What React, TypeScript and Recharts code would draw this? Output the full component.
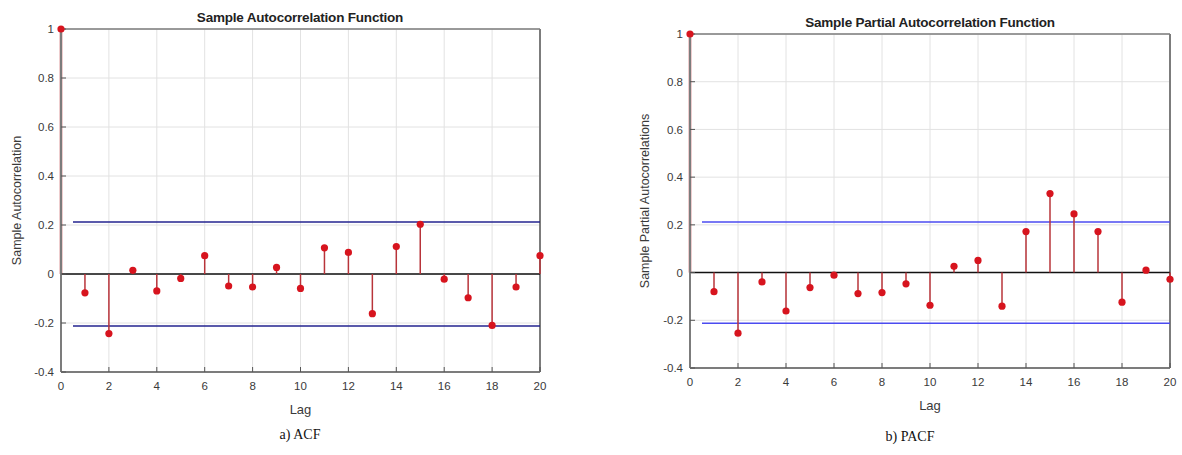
import { ComposedChart, Scatter, XAxis, YAxis, CartesianGrid, ReferenceLine } from 'recharts';

const LAGS = [0, 1, 2, 3, 4, 5, 6, 7, 8, 9, 10, 11, 12, 13, 14, 15, 16, 17, 18, 19, 20];
const ACF_VALUES = [1, -0.077, -0.243, 0.015, -0.069, -0.018, 0.075, -0.049, -0.053, 0.027, -0.059, 0.107, 0.088, -0.162, 0.112, 0.203, -0.021, -0.097, -0.21, -0.053, 0.075];
const PACF_VALUES = [1, -0.08, -0.254, -0.039, -0.161, -0.063, -0.011, -0.088, -0.084, -0.047, -0.137, 0.026, 0.051, -0.141, 0.172, 0.331, 0.246, 0.172, -0.124, 0.01, -0.028];
const ACF_BOUND = 0.212;
const PACF_BOUND = 0.212;
const X_TICKS = [0, 2, 4, 6, 8, 10, 12, 14, 16, 18, 20];
const Y_TICKS = [-0.4, -0.2, 0, 0.2, 0.4, 0.6, 0.8, 1];

const FONT = '"Liberation Sans", Arial, sans-serif';
const SERIF = '"Liberation Serif", "Times New Roman", serif';
const STEM_COLOR = '#b8343a';
const DOT_COLOR = '#d7141e';
const BOX_COLOR = '#7c7c7c';
const X_AXIS_HEIGHT = 48;

const fmt = (v: number) => (Math.abs(v) < 1e-9 ? '0' : String(parseFloat(v.toFixed(1))));

interface StemPlotProps {
  values: number[];
  bound: number;
  boundColor: string;
  width: number;
  height: number;
  top: number;
  right: number;
  yAxisWidth: number;
  yLabel: string;
  yLabelOffset: number;
}

// stem plot in the matlab autocorr/parcorr style
const StemPlot = ({ values, bound, boundColor, width, height, top, right, yAxisWidth, yLabel, yLabelOffset }: StemPlotProps) => {
  const data = LAGS.map((lag, i) => ({ lag, value: values[i] }));
  const tickStyle = { fill: '#3a3a3a', fontSize: 11.5, fontFamily: FONT };

  return (
    <ComposedChart width={width} height={height} data={data} margin={{ top, right, bottom: 0, left: 0 }}>
      <CartesianGrid stroke="#e2e2e2" strokeWidth={1} />
      <XAxis
        dataKey="lag"
        type="number"
        domain={[0, 20]}
        ticks={X_TICKS}
        tickFormatter={fmt}
        tick={tickStyle}
        tickSize={-5}
        tickMargin={15}
        height={X_AXIS_HEIGHT}
        axisLine={{ stroke: BOX_COLOR, strokeWidth: 2 }}
        tickLine={{ stroke: '#555' }}
        label={{ value: 'Lag', position: 'insideBottom', offset: 6, style: { fill: '#3a3a3a', fontSize: 13, fontFamily: FONT } }}
      />
      <YAxis
        type="number"
        domain={[-0.4, 1]}
        ticks={Y_TICKS}
        tickFormatter={fmt}
        tick={tickStyle}
        tickSize={-5}
        tickMargin={12}
        width={yAxisWidth}
        axisLine={{ stroke: BOX_COLOR, strokeWidth: 2 }}
        tickLine={{ stroke: '#555' }}
        label={{
          value: yLabel,
          angle: -90,
          position: 'insideLeft',
          offset: yLabelOffset,
          style: { textAnchor: 'middle', fill: '#3a3a3a', fontSize: 12.5, fontFamily: FONT },
        }}
      />
      {/* top and right sides of the box */}
      <ReferenceLine y={1} stroke={BOX_COLOR} strokeWidth={1.5} />
      <ReferenceLine x={20} stroke={BOX_COLOR} strokeWidth={2} />
      {/* confidence bounds */}
      <ReferenceLine segment={[{ x: 0.5, y: bound }, { x: 20, y: bound }]} stroke={boundColor} strokeWidth={1.5} />
      <ReferenceLine segment={[{ x: 0.5, y: -bound }, { x: 20, y: -bound }]} stroke={boundColor} strokeWidth={1.5} />
      <ReferenceLine y={0} stroke="#111" strokeWidth={1.5} />
      {data.map((d) => (
        <ReferenceLine
          key={`stem-${d.lag}`}
          segment={[{ x: d.lag, y: 0 }, { x: d.lag, y: d.value }]}
          stroke={STEM_COLOR}
          strokeWidth={d.lag === 0 ? 2.5 : 1.5}
        />
      ))}
      <Scatter
        dataKey="value"
        isAnimationActive={false}
        shape={(p: any) => <circle cx={p.cx} cy={p.cy} r={3.6} fill={DOT_COLOR} />}
      />
    </ComposedChart>
  );
};

const textBase = { position: 'absolute' as const, whiteSpace: 'nowrap' as const, transform: 'translate(-50%, -50%)' };

export default function App() {
  return (
    <div style={{ position: 'absolute', left: 0, top: 0, width: 1182, height: 455, background: '#fff', overflow: 'hidden' }}>
      <div style={{ position: 'absolute', left: 0, top: 0 }}>
        <StemPlot
          values={ACF_VALUES}
          bound={ACF_BOUND}
          boundColor="#23238f"
          width={560}
          height={420}
          top={29}
          right={20}
          yAxisWidth={61}
          yLabel="Sample Autocorrelation"
          yLabelOffset={17}
        />
      </div>
      <div style={{ position: 'absolute', left: 600, top: 0 }}>
        <StemPlot
          values={PACF_VALUES}
          bound={PACF_BOUND}
          boundColor="#4b4bf0"
          width={582}
          height={416}
          top={34}
          right={12}
          yAxisWidth={90}
          yLabel="Sample Partial Autocorrelations"
          yLabelOffset={45}
        />
      </div>
      <div style={{ ...textBase, left: 300, top: 17, fontFamily: FONT, fontWeight: 'bold', fontSize: 13.5, letterSpacing: -0.2, color: '#222' }}>
        Sample Autocorrelation Function
      </div>
      <div style={{ ...textBase, left: 930, top: 22, fontFamily: FONT, fontWeight: 'bold', fontSize: 13.5, letterSpacing: -0.2, color: '#222' }}>
        Sample Partial Autocorrelation Function
      </div>
      <div style={{ ...textBase, left: 300, top: 435, fontFamily: SERIF, fontSize: 14, color: '#111' }}>
        a) ACF
      </div>
      <div style={{ ...textBase, left: 910, top: 437, fontFamily: SERIF, fontSize: 14, color: '#111' }}>
        b) PACF
      </div>
    </div>
  );
}
